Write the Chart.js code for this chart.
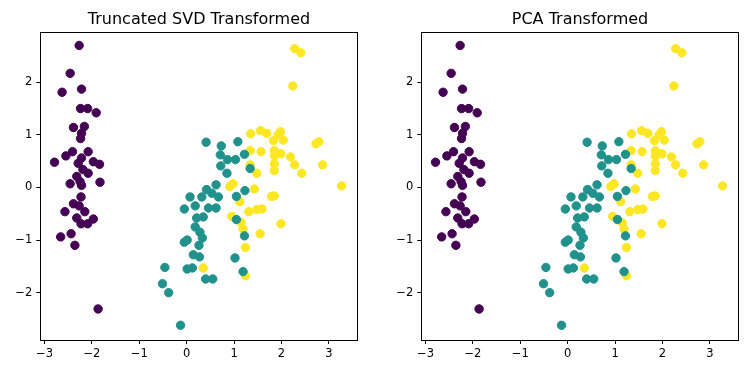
<!DOCTYPE html>
<html>
<head>
<meta charset="utf-8">
<script src="https://cdn.jsdelivr.net/npm/chart.js@4"></script>
<style>
    body { margin: 0; background: #fff; }
    #wrap { position: relative; width: 747px; height: 374px; }
    canvas { position: absolute; top: 0; }
</style>
</head>
<body>
<div id="wrap">
    <canvas id="svdChart" width="373" height="374" style="left:0px"></canvas>
    <canvas id="pcaChart" width="374" height="374" style="left:373px"></canvas>
</div>
<script>
// scatter values (both panels show the same points)
const class0X = [-2.27, -2.46, -2.63, -2.22, -2.24, -2.09, -1.91, -2.39, -2.16, -2.22, -2.24, -2.08, -2.41, -2.55, -2.79,
    -2.22, -2.29, -1.97, -1.84, -2.19, -2.08, -2.32, -2.25, -2.46, -1.83, -2.22, -2.23, -2.39, -2.27, -2.57,
    -2.15, -2.32, -1.97, -2.23, -2.09, -2.66, -2.44, -2.36, -1.87];
const class0Y = [2.70, 2.17, 1.81, 1.87, 1.50, 1.50, 1.42, 1.14, 1.16, 1.03, 0.93, 0.68, 0.68, 0.60, 0.48,
    0.56, 0.46, 0.49, 0.44, 0.34, 0.27, 0.21, 0.11, 0.07, 0.10, 0.04, -0.18, -0.31, -0.35, -0.46,
    -0.46, -0.58, -0.60, -0.69, -0.69, -0.94, -0.88, -1.10, -2.31];

const class1X = [0.41, 0.73, 1.08, 0.71, 0.86, 1.03, 1.22, 0.72, 0.85, 0.62, 0.42, 0.07, 0.32, 0.53, 0.67,
    0.18, -0.05, 0.46, 0.62, 0.35, 0.21, 0.18, 0.28, 0.33, -0.05, 0.01, 0.26, 0.14, 0.27, -0.46,
    0.01, 0.12, 0.40, 0.55, -0.51, -0.38, -0.13, 1.05, 1.23, 1.34, 1.02, 1.22, 1.19, 1.05];
const class1Y = [0.86, 0.79, 0.87, 0.62, 0.53, 0.53, 0.63, 0.41, 0.27, 0.05, -0.04, -0.18, -0.18, -0.11, -0.18,
    -0.35, -0.41, -0.39, -0.39, -0.56, -0.58, -0.75, -0.85, -0.96, -1.04, -1.00, -1.10, -1.28, -1.32, -1.52,
    -1.55, -1.53, -1.74, -1.74, -1.83, -2.00, -2.62, -0.17, -0.06, 0.36, -1.34, -0.92, -1.60, -0.61];

const class2X = [2.28, 2.41, 2.24, 1.35, 1.56, 1.69, 1.98, 1.93, 1.83, 2.04, 2.79, 2.73, 1.34, 1.57, 1.85,
    1.99, 1.85, 2.19, 2.28, 1.85, 1.85, 1.34, 1.48, 2.43, 2.87, 3.27, 0.98, 0.91, 1.43, 1.12,
    1.79, 1.85, 1.31, 1.48, 1.59, 0.95, 1.15, 1.19, 1.99, 1.55, 1.24, 0.35, 1.24];
const class2Y = [2.64, 2.56, 1.93, 1.02, 1.08, 1.03, 1.06, 1.00, 0.89, 0.90, 0.87, 0.83, 0.70, 0.68, 0.70,
    0.64, 0.60, 0.58, 0.43, 0.45, 0.32, 0.43, 0.27, 0.27, 0.43, 0.03, 0.07, 0.02, -0.03, -0.27,
    -0.17, -0.16, -0.46, -0.42, -0.41, -0.55, -0.67, -0.79, -0.69, -0.88, -1.14, -1.53, -1.68];

const classColors = ['#440154', '#21918c', '#fde725'];
const xTickValues = [-3, -2, -1, 0, 1, 2, 3];
const yTickValues = [-2, -1, 0, 1, 2];

function toPoints(xs, ys) {
    return xs.map((x, i) => ({ x: x, y: ys[i] }));
}

// top and right spines like matplotlib
const frameBox = {
    id: 'frameBox',
    afterDraw(chart) {
        const a = chart.chartArea;
        const c = chart.ctx;
        c.save();
        c.strokeStyle = '#000';
        c.lineWidth = 1;
        c.strokeRect(Math.round(a.left) + 0.5, Math.round(a.top) + 0.5,
            Math.round(a.right - a.left), Math.round(a.bottom - a.top));
        c.restore();
    }
};

function makeChart(id, titleText, leftWidth, rightPad) {
    const ctx = document.getElementById(id).getContext('2d');
    const sets = [[class0X, class0Y], [class1X, class1Y], [class2X, class2Y]].map((d, i) => ({
        data: toPoints(d[0], d[1]),
        backgroundColor: classColors[i],
        borderColor: classColors[i],
        borderWidth: 1,
        pointRadius: 4.2,
        pointHoverRadius: 4.2
    }));
    return new Chart(ctx, {
        type: 'scatter',
        data: { datasets: sets },
        options: {
            responsive: false,
            animation: false,
            devicePixelRatio: 1,
            layout: { padding: { left: 0, right: rightPad, top: 0, bottom: 0 } },
            plugins: {
                legend: { display: false },
                tooltip: { enabled: false },
                title: {
                    display: true,
                    text: titleText,
                    fullSize: false,
                    color: '#000',
                    font: { family: 'DejaVu Sans', size: 16, weight: 'normal', lineHeight: 1.2 },
                    padding: { top: 9.8, bottom: 3.3 }
                }
            },
            scales: {
                x: {
                    type: 'linear',
                    min: -3.09,
                    max: 3.61,
                    afterBuildTicks: s => { s.ticks = xTickValues.map(v => ({ value: v })); },
                    afterFit: s => { s.height = 34; },
                    grid: { drawOnChartArea: false, drawTicks: true, tickLength: 4, color: '#000' },
                    border: { display: true, color: '#000' },
                    ticks: {
                        color: '#000',
                        padding: 3,
                        font: { family: 'DejaVu Sans', size: 11.5 },
                        maxRotation: 0,
                        callback: v => String(v).replace('-', '\u2212')
                    }
                },
                y: {
                    type: 'linear',
                    min: -2.90,
                    max: 2.95,
                    afterBuildTicks: s => { s.ticks = yTickValues.map(v => ({ value: v })); },
                    afterFit: s => { s.width = leftWidth; },
                    grid: { drawOnChartArea: false, drawTicks: true, tickLength: 4, color: '#000' },
                    border: { display: true, color: '#000' },
                    ticks: {
                        color: '#000',
                        padding: 4,
                        font: { family: 'DejaVu Sans', size: 11.5 },
                        callback: v => String(v).replace('-', '\u2212')
                    }
                }
            }
        },
        plugins: [frameBox]
    });
}

makeChart('svdChart', 'Truncated SVD Transformed', 40.3, 15.3);
makeChart('pcaChart', 'PCA Transformed', 48.3, 8.3);
</script>
</body>
</html>
